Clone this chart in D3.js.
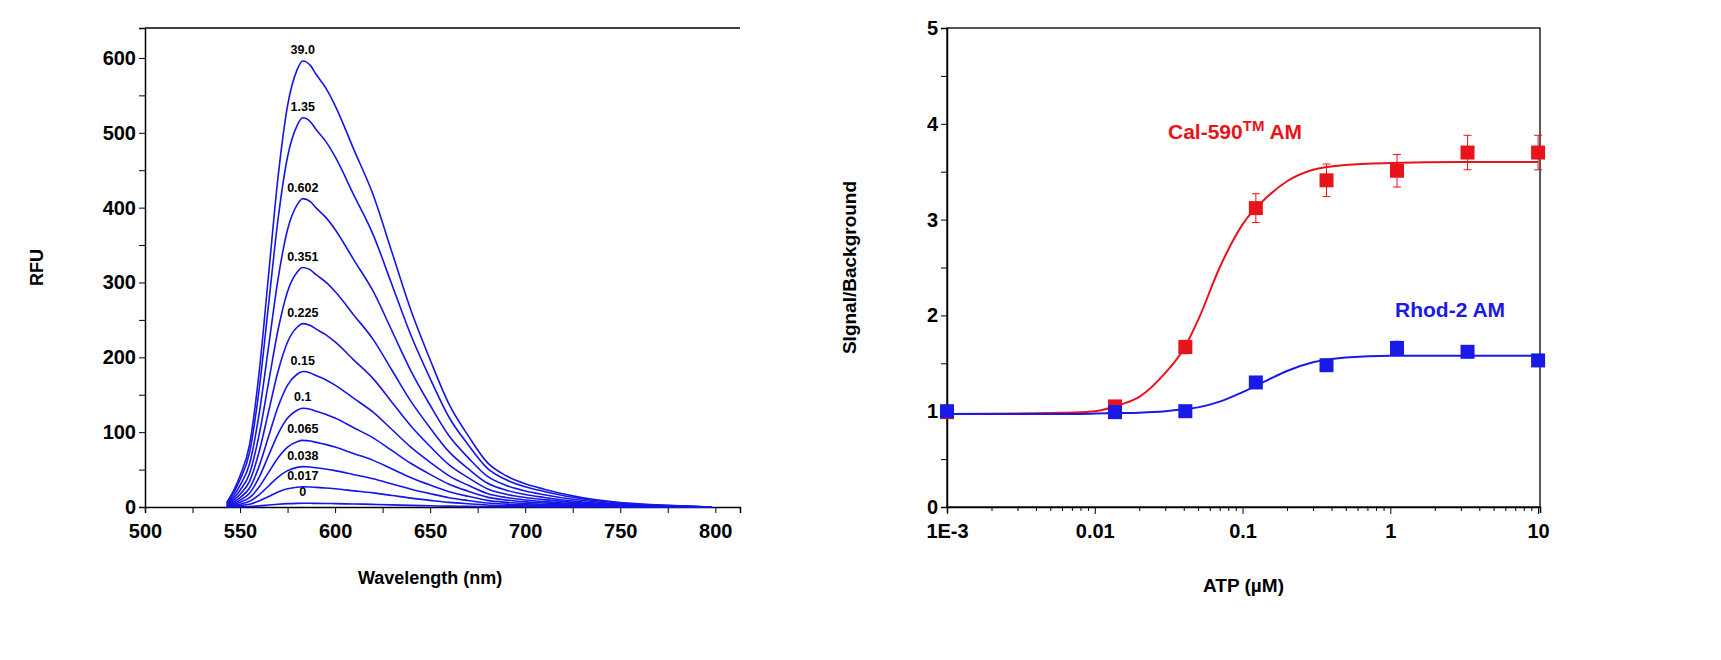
<!DOCTYPE html>
<html><head><meta charset="utf-8">
<script src="https://cdn.jsdelivr.net/npm/d3@7"></script>
<style>body{margin:0;background:#fff}text{font-family:"Liberation Sans",Arial,sans-serif;font-weight:bold}</style>
</head><body><svg id="c" width="1721" height="660"></svg>
<script>
// spectrum shape (normalised)
const wavelengths = [543,547,550,555,560,565,570,575,580,583,587,590,595,600,610,620,630,640,650,660,670,680,690,700,710,725,750,775,798];
const shape       = [0.01,0.04,0.07,0.14,0.3,0.52,0.74,0.9,0.98,1.0,0.99,0.97,0.94,0.9,0.8,0.7,0.57,0.44,0.33,0.23,0.16,0.1,0.07,0.052,0.04,0.025,0.01,0.004,0.0];
const concLabels  = ["0","0.017","0.038","0.065","0.1","0.15","0.225","0.351","0.602","1.35","39.0"];
const peaks       = [5,27,54,89,132,181,245,320,412,520,596];

// ATP dose response
const atp      = [0.001,0.0137,0.041,0.123,0.37,1.11,3.33,10];
const calVals  = [0.99,1.05,1.67,3.12,3.41,3.51,3.70,3.70];
const calErr   = [0,0.03,0.07,0.15,0.17,0.17,0.18,0.18];
const rhodVals = [1.0,0.99,1.0,1.30,1.48,1.66,1.62,1.53];
const rhodErr  = [0,0.02,0.03,0.04,0.05,0.07,0.05,0.05];
const fitX     = [0.001,0.005,0.01,0.015,0.02,0.03,0.04,0.05,0.07,0.1,0.15,0.2,0.3,0.5,1,3,10];
const calFit   = [0.97,0.98,1.0,1.07,1.15,1.4,1.65,1.95,2.5,2.95,3.25,3.4,3.52,3.57,3.59,3.6,3.6];
const rhodFit  = [0.97,0.97,0.975,0.98,0.985,1.0,1.02,1.04,1.1,1.2,1.33,1.42,1.51,1.56,1.58,1.58,1.58];

const svg = d3.select("#c");
const T=28, B=507;

// ---- left panel
const xL = d3.scaleLinear().domain([500,813]).range([145,740]);
const yL = d3.scaleLinear().domain([0,640]).range([B,T]);
const gl = svg.append("g");
gl.append("line").attr("x1",145).attr("x2",740).attr("y1",T).attr("y2",T).attr("stroke","#000").attr("stroke-width",1.3);
gl.append("g").attr("transform",`translate(0,${B})`)
  .call(d3.axisBottom(xL).tickValues(d3.range(500,801,25)).tickSize(6)
    .tickFormat(d=>d%50===0?d:"")).call(a=>{a.select(".domain").attr("stroke-width",1.5);a.selectAll("text").attr("font-size",20).attr("dy","1.1em");});
gl.append("g").attr("transform",`translate(145,0)`)
  .call(d3.axisLeft(yL).tickValues(d3.range(0,601,50)).tickSize(6)
    .tickFormat(d=>d%100===0?d:"")).call(a=>{a.select(".domain").attr("stroke-width",1.5);a.selectAll("text").attr("font-size",20);});
const lineL = d3.line().x((d,i)=>xL(wavelengths[i])).y(d=>yL(d)).curve(d3.curveMonotoneX);
peaks.forEach((p,k)=>{
  gl.append("path").attr("d",lineL(shape.map(s=>s*p))).attr("fill","none").attr("stroke","#1515e6").attr("stroke-width",1.6);
  gl.append("text").attr("x",xL(583)).attr("y",yL(p)-7).attr("text-anchor","middle").attr("font-size",12.5).text(concLabels[k]);
});
gl.append("text").attr("x",xL(650)).attr("y",584).attr("text-anchor","middle").attr("font-size",18).text("Wavelength (nm)");
gl.append("text").attr("transform",`translate(43,${(T+B)/2}) rotate(-90)`).attr("text-anchor","middle").attr("font-size",18).text("RFU");

// ---- right panel
const xR = d3.scaleLog().domain([0.001,10.3]).range([947,1540]);
const yR = d3.scaleLinear().domain([0,5]).range([B,T]);
const gr = svg.append("g");
gr.append("rect").attr("x",947).attr("y",T).attr("width",593).attr("height",B-T).attr("fill","none").attr("stroke","#000").attr("stroke-width",1.3);
const minor=[];for(let e=-3;e<=1;e++)for(let m=1;m<=9;m++){const v=m*Math.pow(10,e);if(v<=10.001)minor.push(v);}
const decades=[0.001,0.01,0.1,1,10], decLab=["1E-3","0.01","0.1","1","10"];
gr.append("g").attr("transform",`translate(0,${B})`)
  .call(d3.axisBottom(xR).tickValues(minor).tickSize(6).tickFormat(d=>{const i=decades.findIndex(v=>Math.abs(v-d)<1e-9);return i>=0?decLab[i]:"";}))
  .call(a=>{a.select(".domain").attr("stroke-width",1.5);a.selectAll("text").attr("font-size",20).attr("dy","1.1em");
    a.selectAll(".tick line").attr("y2",d=>decades.some(v=>Math.abs(v-d)<1e-9)?7:4);});
gr.append("g").attr("transform",`translate(947,0)`)
  .call(d3.axisLeft(yR).tickValues(d3.range(0,5.01,0.5)).tickSize(6).tickFormat(d=>d%1===0?d:""))
  .call(a=>{a.select(".domain").attr("stroke-width",1.5);a.selectAll("text").attr("font-size",20);});
const lineR = d3.line().x((d,i)=>xR(fitX[i])).y(d=>yR(d)).curve(d3.curveMonotoneX);
[[calVals,calErr,calFit,"#e8141b"],[rhodVals,rhodErr,rhodFit,"#1a1ae6"]].forEach(([v,e,f,c])=>{
  gr.append("path").attr("d",lineR(f)).attr("fill","none").attr("stroke",c).attr("stroke-width",2);
  atp.forEach((x,i)=>{
    if(e[i]>0){
      const px=xR(x);
      gr.append("path").attr("d",`M${px},${yR(v[i]-e[i])}V${yR(v[i]+e[i])}M${px-4},${yR(v[i]-e[i])}h8M${px-4},${yR(v[i]+e[i])}h8`).attr("stroke",c).attr("fill","none").attr("stroke-width",1);
    }
    gr.append("rect").attr("x",xR(x)-7).attr("y",yR(v[i])-7).attr("width",14).attr("height",14).attr("fill",c);
  });
});
gr.append("text").attr("x",1168).attr("y",139).attr("fill","#e8141b").attr("font-size",21)
  .html('Cal-590<tspan dy="-8" font-size="15">TM</tspan><tspan dy="8"> AM</tspan>');
gr.append("text").attr("x",1395).attr("y",317).attr("fill","#1a1ae6").attr("font-size",21).text("Rhod-2 AM");
gr.append("text").attr("x",(947+1540)/2).attr("y",592).attr("text-anchor","middle").attr("font-size",19).text("ATP (µM)");
gr.append("text").attr("transform",`translate(856,${(T+B)/2}) rotate(-90)`).attr("text-anchor","middle").attr("font-size",19).text("SIgnal/Background");
</script></body></html>
